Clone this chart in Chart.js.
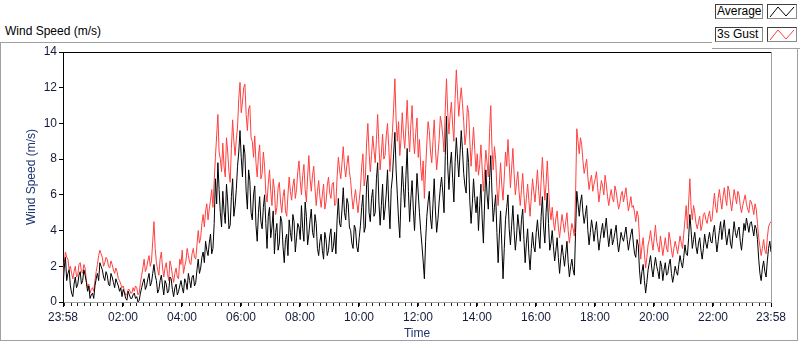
<!DOCTYPE html>
<html>
<head>
<meta charset="utf-8">
<title>Wind Speed (m/s)</title>
<script src="https://cdn.jsdelivr.net/npm/chart.js@4.4.0/dist/chart.umd.min.js"></script>
<style>
  body { margin: 0; background: #fff; font-family: "Liberation Sans", Arial, sans-serif; }
  #wrap { position: relative; width: 800px; height: 342px; overflow: hidden; }
  #panel { position: absolute; left: 0; top: 42px; width: 798px; height: 299px; box-sizing: border-box; border: 1px solid #a0a0a0; }
  #chart { position: absolute; left: 0; top: 0; }
  #caption { position: absolute; left: 5px; top: 24px; font-size: 12px; line-height: 14px; color: #000; }
  #legend { position: absolute; left: 712px; top: 0; width: 88px; height: 49px; background: #fff; border-bottom: 1px solid #a0a0a0; box-sizing: border-box; }
  .lg-name, .lg-icon { position: absolute; height: 15px; box-sizing: border-box; background: #fff;
    border: 1px solid #404040; border-right-color: #8a8a8a; border-bottom-color: #8a8a8a; }
  .lg-name { left: 3px; width: 48px; font-size: 12px; line-height: 13px; padding-left: 1px; color: #000; }
  .lg-icon { left: 55px; width: 30px; }
  .lg-icon svg { position: absolute; left: 0; top: 0; }
</style>
</head>
<body>
<div id="wrap">
  <div id="panel"></div>
  <div id="caption">Wind Speed (m/s)</div>
  <canvas id="chart" width="800" height="342"></canvas>
  <div id="legend">
    <div class="lg-name" style="top:4px">Average</div>
    <div class="lg-icon" style="top:4px"><svg width="28" height="13"><polyline points="2,12 10,2 18,11 26,2" fill="none" stroke="#000" stroke-width="1"/></svg></div>
    <div class="lg-name" style="top:27px">3s Gust</div>
    <div class="lg-icon" style="top:27px"><svg width="28" height="13"><polyline points="2,12 10,2 18,11 26,2" fill="none" stroke="#ff4040" stroke-width="1"/></svg></div>
  </div>
</div>
<script>
// -------- Data ----------
// one sample every 2.5 minutes, minutes counted from 23:58 (one row = one hour)
const STEP_MIN = 2.5;

const AVERAGE = [
  0.8, 1.9, 2.5, 1.2, 1.6, 1.8, 0.9, 0.5, 0.3, 1.0, 1.4, 0.8, 1.0, 1.5, 1.7, 1.0, 1.2, 1.8, 1.5, 1.1, 0.6, 0.9, 0.2, 0.4,
  0.5, 0.2, 0.9, 1.3, 1.6, 1.2, 2.2, 2.0, 1.8, 1.4, 1.2, 1.7, 1.5, 1.0, 0.9, 1.6, 1.4, 1.1, 0.8, 1.3, 1.1, 0.9, 0.6, 0.8,
  0.3, 0.7, 0.5, 0.2, 0.1, 0.6, 0.4, 0.2, 0.2, 0.4, 0.5, 0.2, 0.3, 0.0, 0.1, 0.5, 0.8, 1.1, 1.3, 0.7, 0.9, 1.3, 1.6, 0.9,
  1.1, 1.6, 2.1, 1.5, 1.2, 0.5, 0.7, 1.2, 1.5, 0.9, 0.4, 1.2, 1.0, 0.5, 0.6, 1.4, 1.3, 0.7, 0.3, 0.8, 1.0, 0.4, 0.6, 0.9,
  1.2, 0.8, 0.5, 1.3, 1.1, 0.7, 1.6, 1.2, 0.8, 1.4, 1.5, 0.9, 1.1, 1.8, 2.4, 1.6, 1.9, 2.5, 2.8, 2.2, 3.4, 2.9, 2.6, 3.3,
  3.8, 2.7, 3.0, 4.4, 6.9, 5.5, 7.8, 6.3, 5.0, 4.2, 6.2, 5.1, 4.4, 6.6, 5.6, 4.1, 4.3, 5.9, 6.9, 4.8, 5.4, 6.3, 7.6, 8.4,
  9.6, 8.1, 7.0, 8.8, 8.3, 6.2, 5.2, 7.4, 6.8, 5.0, 4.6, 6.0, 6.5, 4.3, 3.4, 5.0, 5.9, 4.5, 4.1, 5.3, 6.0, 4.4, 3.0, 4.8,
  5.3, 3.6, 4.2, 5.1, 2.7, 3.9, 4.4, 2.9, 3.3, 4.8, 4.5, 3.1, 2.2, 3.5, 3.8, 2.6, 4.6, 3.9, 3.4, 4.9, 4.5, 2.8, 3.6, 4.4,
  4.2, 3.5, 5.4, 4.1, 3.4, 5.6, 4.8, 3.2, 3.8, 4.6, 5.2, 3.9, 3.6, 4.9, 4.4, 3.0, 2.6, 3.4, 3.8, 2.9, 2.4, 3.9, 3.5, 2.6,
  2.9, 3.7, 4.1, 2.8, 3.1, 3.9, 2.7, 4.6, 5.8, 4.4, 4.2, 5.2, 6.4, 5.0, 4.6, 5.8, 5.5, 4.2, 4.0, 3.3, 3.0, 4.3, 4.1, 3.1,
  2.8, 3.6, 4.3, 5.3, 6.0, 3.9, 4.2, 6.6, 7.1, 5.0, 4.5, 5.8, 6.3, 4.8, 5.0, 6.9, 7.8, 5.6, 4.3, 5.4, 6.6, 4.6, 5.2, 6.1,
  7.4, 5.5, 4.1, 6.3, 7.0, 8.3, 9.5, 7.4, 6.0, 4.6, 3.6, 5.9, 7.6, 6.4, 5.3, 7.1, 8.6, 6.2, 4.5, 5.8, 6.8, 5.2, 4.0, 5.6,
  7.2, 6.1, 5.0, 4.0, 3.2, 2.3, 1.3, 3.4, 4.8, 5.6, 6.2, 4.7, 4.1, 5.5, 6.9, 5.1, 3.9, 4.6, 5.6, 6.4, 7.0, 6.1, 5.0, 8.2,
  10.4, 7.6, 6.3, 7.7, 8.4, 6.9, 5.6, 7.8, 9.2, 8.0, 7.0, 8.3, 9.6, 8.5, 7.2, 6.5, 6.1, 8.6, 7.8, 5.6, 4.4, 5.5, 6.9, 5.8,
  5.0, 5.9, 4.0, 5.4, 6.6, 4.7, 3.3, 5.5, 7.4, 6.0, 5.2, 6.8, 8.2, 6.1, 4.5, 5.3, 6.0, 3.9, 2.2, 3.8, 5.1, 3.2, 1.3, 3.0,
  4.6, 5.3, 6.0, 4.1, 3.2, 4.3, 5.4, 4.0, 2.9, 3.7, 4.9, 4.2, 3.4, 4.6, 5.2, 3.5, 2.2, 3.3, 4.1, 2.7, 1.8, 3.0, 3.9, 3.1,
  2.8, 3.9, 4.6, 3.7, 3.0, 4.8, 5.9, 4.2, 3.3, 5.0, 6.1, 4.4, 2.9, 3.3, 4.0, 3.1, 2.3, 2.9, 3.6, 2.5, 1.6, 2.5, 3.2, 2.6,
  2.0, 2.7, 3.4, 2.2, 1.4, 2.0, 2.4, 1.8, 1.5, 3.9, 6.2, 5.5, 4.8, 5.6, 6.0, 5.0, 4.4, 4.9, 5.4, 4.0, 3.2, 3.9, 4.6, 4.1,
  3.4, 4.0, 4.5, 3.6, 2.9, 3.5, 4.0, 4.4, 3.6, 4.1, 4.7, 3.8, 3.1, 3.7, 4.1, 3.2, 3.5, 3.9, 4.3, 3.4, 2.8, 3.3, 3.9, 3.6,
  3.4, 3.8, 4.2, 3.5, 2.9, 3.4, 3.8, 4.1, 3.3, 2.7, 2.5, 3.5, 3.2, 1.8, 1.0, 1.7, 2.1, 1.2, 0.5, 1.1, 1.8, 2.2, 2.6, 1.9,
  1.4, 2.0, 2.5, 2.0, 1.7, 1.3, 2.3, 2.0, 1.2, 1.8, 2.2, 1.5, 1.6, 2.1, 2.4, 1.6, 1.1, 1.5, 2.0, 1.7, 1.5, 2.1, 2.6, 2.2,
  1.9, 2.5, 3.2, 2.7, 2.6, 3.6, 4.9, 4.0, 3.0, 3.5, 3.9, 3.1, 2.7, 3.3, 3.6, 2.9, 2.4, 3.0, 3.8, 3.3, 3.0, 3.5, 3.9, 3.4,
  3.3, 3.9, 4.3, 3.5, 2.8, 3.4, 4.0, 4.5, 3.5, 4.1, 4.6, 3.8, 3.2, 3.7, 4.1, 3.3, 3.0, 3.8, 4.5, 3.9, 3.6, 4.0, 4.2, 3.4,
  2.9, 3.6, 4.4, 4.0, 4.7, 4.3, 3.9, 4.4, 4.5, 4.1, 3.7, 4.3, 4.1, 3.5, 2.4, 1.6, 1.2, 1.9, 2.3, 1.7, 1.4, 2.3, 3.0, 3.4,
  2.8
];

const GUST = [
  1.3, 2.2, 2.8, 2.5, 2.4, 1.8, 2.0, 1.6, 1.3, 1.7, 2.0, 1.4, 1.5, 2.1, 2.2, 1.7, 1.6, 2.1, 1.9, 1.2, 0.8, 1.0, 0.5, 0.7,
  0.8, 0.6, 1.2, 1.7, 2.1, 2.6, 2.9, 2.7, 2.5, 2.0, 2.2, 2.5, 2.4, 2.0, 1.9, 2.3, 2.1, 1.8, 1.6, 1.9, 1.7, 1.3, 1.2, 1.0,
  0.8, 0.9, 0.6, 0.4, 0.4, 0.7, 0.7, 0.5, 0.5, 0.8, 0.6, 0.9, 0.8, 0.4, 0.5, 1.1, 1.5, 1.9, 2.4, 1.7, 1.9, 2.3, 2.6, 2.0,
  2.3, 3.4, 4.5, 3.0, 2.2, 1.8, 1.5, 2.4, 2.8, 1.9, 1.4, 1.9, 2.2, 1.6, 1.2, 2.3, 2.0, 1.5, 1.1, 1.6, 1.9, 1.4, 1.3, 2.4,
  2.1, 2.9, 1.6, 2.0, 2.3, 3.0, 2.6, 2.2, 2.1, 2.7, 3.0, 2.5, 2.4, 3.2, 4.0, 3.3, 3.6, 4.4, 4.9, 4.2, 5.1, 5.5, 4.6, 5.2,
  5.7, 6.3, 5.3, 6.8, 8.1, 9.3, 10.5, 8.4, 8.0, 7.3, 8.9, 7.6, 7.0, 9.2, 8.4, 7.3, 6.7, 8.6, 10.2, 9.0, 8.2, 9.1, 9.8, 11.4,
  12.3, 10.6, 11.2, 12.0, 12.2, 10.5, 9.6, 10.8, 11.0, 9.2, 9.0, 8.1, 9.3, 7.8, 7.0, 8.2, 8.8, 6.9, 7.2, 8.4, 7.6, 6.1, 5.6, 6.6,
  7.4, 6.2, 5.4, 6.9, 6.3, 4.9, 5.3, 6.4, 6.7, 5.6, 5.0, 5.9, 6.3, 5.1, 4.8, 6.0, 7.0, 6.2, 5.7, 6.5, 6.9, 5.8, 6.3, 7.3,
  7.9, 6.8, 6.0, 7.1, 7.7, 6.3, 5.6, 7.0, 8.2, 6.9, 6.2, 7.1, 7.6, 6.4, 5.4, 6.2, 6.8, 5.9, 5.3, 6.0, 6.6, 5.2, 5.6, 6.5,
  7.0, 6.1, 5.8, 6.6, 6.7, 5.4, 5.5, 7.0, 8.1, 7.4, 6.9, 7.8, 8.7, 7.6, 7.0, 7.7, 8.2, 7.3, 6.8, 5.9, 5.2, 5.8, 6.3, 5.6,
  5.0, 5.7, 6.4, 7.6, 8.3, 6.5, 7.0, 8.9, 10.0, 8.4, 7.3, 8.2, 9.3, 8.5, 7.8, 9.1, 10.5, 8.8, 7.4, 8.3, 9.4, 8.0, 8.2, 9.3,
  10.0, 8.7, 7.3, 8.4, 9.5, 10.9, 12.5, 10.2, 9.0, 10.1, 8.2, 9.1, 10.6, 9.4, 8.6, 9.8, 11.3, 9.6, 8.4, 9.9, 11.0, 9.2, 8.3, 9.5,
  10.3, 8.1, 9.1, 7.6, 6.8, 7.9, 5.8, 7.4, 8.9, 10.1, 9.6, 8.4, 7.8, 9.0, 10.2, 8.6, 7.4, 8.2, 9.1, 10.4, 10.0, 9.3, 8.4, 10.8,
  12.5, 10.6, 9.4, 10.5, 11.2, 9.9, 9.0, 11.4, 13.0, 11.6, 10.4, 11.3, 12.0, 11.1, 10.1, 8.8, 9.4, 11.0, 10.6, 9.0, 7.6, 8.7, 9.8, 8.5,
  7.3, 8.3, 7.1, 7.7, 8.8, 7.5, 6.2, 7.3, 8.5, 7.8, 7.0, 9.5, 11.0, 8.6, 7.4, 8.7, 8.0, 6.4, 5.4, 6.6, 7.8, 6.5, 5.7, 7.0,
  8.4, 7.6, 9.1, 7.8, 6.4, 7.5, 8.6, 7.2, 6.0, 6.7, 7.3, 6.2, 5.4, 6.3, 7.2, 6.0, 5.0, 5.8, 6.6, 5.7, 4.8, 5.9, 6.9, 6.2,
  5.6, 6.5, 7.4, 6.2, 5.4, 6.8, 8.1, 6.9, 5.7, 6.6, 7.9, 6.4, 5.2, 4.6, 5.3, 4.5, 4.0, 4.7, 5.1, 4.2, 3.6, 4.3, 4.9, 4.4,
  3.9, 4.5, 5.0, 4.0, 3.3, 3.9, 4.4, 4.1, 3.7, 6.0, 9.7, 9.0, 8.3, 9.2, 8.8, 7.9, 7.2, 7.6, 8.0, 7.0, 6.3, 6.8, 7.1, 6.2,
  6.6, 6.9, 7.3, 6.4, 5.6, 6.2, 6.8, 6.5, 6.0, 7.1, 6.6, 5.9, 5.4, 5.9, 6.3, 5.8, 5.6, 6.5, 6.2, 5.7, 5.2, 5.5, 6.0, 6.2,
  5.6, 6.0, 6.4, 5.7, 5.1, 5.5, 5.9, 5.3, 5.4, 5.0, 4.5, 5.1, 4.8, 3.6, 2.4, 3.1, 3.6, 2.7, 1.9, 2.5, 3.2, 3.5, 4.0, 3.4,
  2.9, 3.6, 4.3, 3.4, 3.1, 2.8, 3.7, 3.2, 2.6, 3.1, 3.6, 3.0, 2.8, 3.9, 3.5, 2.9, 2.5, 3.0, 3.4, 3.1, 2.7, 3.2, 3.7, 3.3,
  3.0, 3.8, 4.6, 5.4, 4.1, 5.6, 6.9, 5.3, 4.6, 5.4, 5.0, 4.4, 4.1, 4.5, 4.8, 4.0, 4.3, 4.9, 5.0, 4.6, 4.4, 4.8, 5.1, 4.5,
  4.6, 5.4, 6.1, 5.3, 5.0, 5.8, 6.3, 5.7, 5.2, 5.9, 6.4, 5.8, 5.4, 6.5, 6.2, 5.6, 5.1, 5.7, 6.3, 5.9, 5.5, 6.2, 6.0, 5.4,
  5.0, 5.4, 5.7, 6.0, 5.5, 5.2, 5.0, 5.7, 5.6, 5.3, 4.9, 5.5, 5.2, 4.4, 3.6, 3.1, 2.6, 3.0, 3.5, 2.9, 2.7, 3.6, 4.2, 4.4,
  4.5
];

// x axis: labelled ticks (minutes since 23:58) and their text
const MAJOR_TICKS = [0, 122, 242, 362, 482, 602, 722, 842, 962, 1082, 1202, 1322, 1440];
const TICK_LABELS = ["23:58", "02:00", "04:00", "06:00", "08:00", "10:00", "12:00",
                     "14:00", "16:00", "18:00", "20:00", "22:00", "23:58"];
// small unlabelled ticks, 9 per two hours
const MINOR_FIRST = 2, MINOR_STEP = 120 / 9;

const Y_TICKS_STEP = 2;

// -------- Helpers ----------
const $ = (q) => document.querySelector(q);
const toPoints = (arr) => arr.map((v, i) => ({ x: i * STEP_MIN, y: v }));

const TICK_FONT = { family: "'Liberation Sans', Arial, sans-serif", size: 12 };
const TICK_COLOR = "#141c3c";
const TITLE_COLOR = "#1d3470";

// top/right frame of the plot and the minor time ticks
const frameAndTicks = {
  id: "frameAndTicks",
  afterDraw(chart) {
    const { ctx, chartArea: a, scales: { x } } = chart;
    ctx.save();
    ctx.lineWidth = 1;
    ctx.strokeStyle = "#000";
    ctx.beginPath();
    ctx.moveTo(a.left, Math.round(a.top) + 0.5);
    ctx.lineTo(a.right, Math.round(a.top) + 0.5);
    ctx.stroke();

    ctx.strokeStyle = "#a0a0a0";
    ctx.beginPath();
    ctx.moveTo(Math.round(a.right) + 0.5, a.top);
    ctx.lineTo(Math.round(a.right) + 0.5, a.bottom + 1);
    ctx.stroke();

    ctx.strokeStyle = "#222";
    ctx.beginPath();
    for (let m = MINOR_FIRST; m <= 1440; m += MINOR_STEP) {
      const px = Math.round(x.getPixelForValue(m)) + 0.5;
      ctx.moveTo(px, a.bottom + 1);
      ctx.lineTo(px, a.bottom + 4);
    }
    ctx.stroke();
    ctx.restore();
  }
};

// -------- Chart ----------
function boot() {
  new Chart($("#chart").getContext("2d"), {
    type: "line",
    data: {
      datasets: [
        { label: "Average", data: toPoints(AVERAGE), borderColor: "#000", borderWidth: 1,
          pointRadius: 0, tension: 0 },
        { label: "3s Gust", data: toPoints(GUST), borderColor: "#ff4040", borderWidth: 1,
          pointRadius: 0, tension: 0 }
      ]
    },
    options: {
      responsive: false,
      animation: false,
      layout: { padding: { left: 0, right: 29, top: 52, bottom: 0 } },
      plugins: { legend: { display: false }, tooltip: { enabled: false } },
      scales: {
        x: {
          type: "linear", min: 0, max: 1440,
          afterFit(s) { s.height = 40; },
          afterBuildTicks(s) { s.ticks = MAJOR_TICKS.map(v => ({ value: v })); },
          ticks: {
            autoSkip: false, maxRotation: 0, padding: 3,
            font: TICK_FONT, color: TICK_COLOR,
            callback: (v, i) => TICK_LABELS[i]
          },
          grid: { drawOnChartArea: false, tickLength: 5, tickColor: "#000" },
          border: { color: "#a0a0a0" },
          title: { display: true, text: "Time", color: TITLE_COLOR, font: TICK_FONT,
                   padding: { top: 0, bottom: 1 } }
        },
        y: {
          min: 0, max: 14,
          afterFit(s) { s.width = 63; },
          ticks: { stepSize: Y_TICKS_STEP, padding: 2, font: TICK_FONT, color: TICK_COLOR },
          grid: { drawOnChartArea: false, tickLength: 4, tickColor: "#000" },
          border: { color: "#000" },
          title: { display: true, text: "Wind Speed (m/s)", color: TITLE_COLOR, font: TICK_FONT,
                   padding: { top: 24, bottom: 0 } }
        }
      }
    },
    plugins: [frameAndTicks]
  });
}

document.addEventListener("DOMContentLoaded", boot);
</script>
</body>
</html>
